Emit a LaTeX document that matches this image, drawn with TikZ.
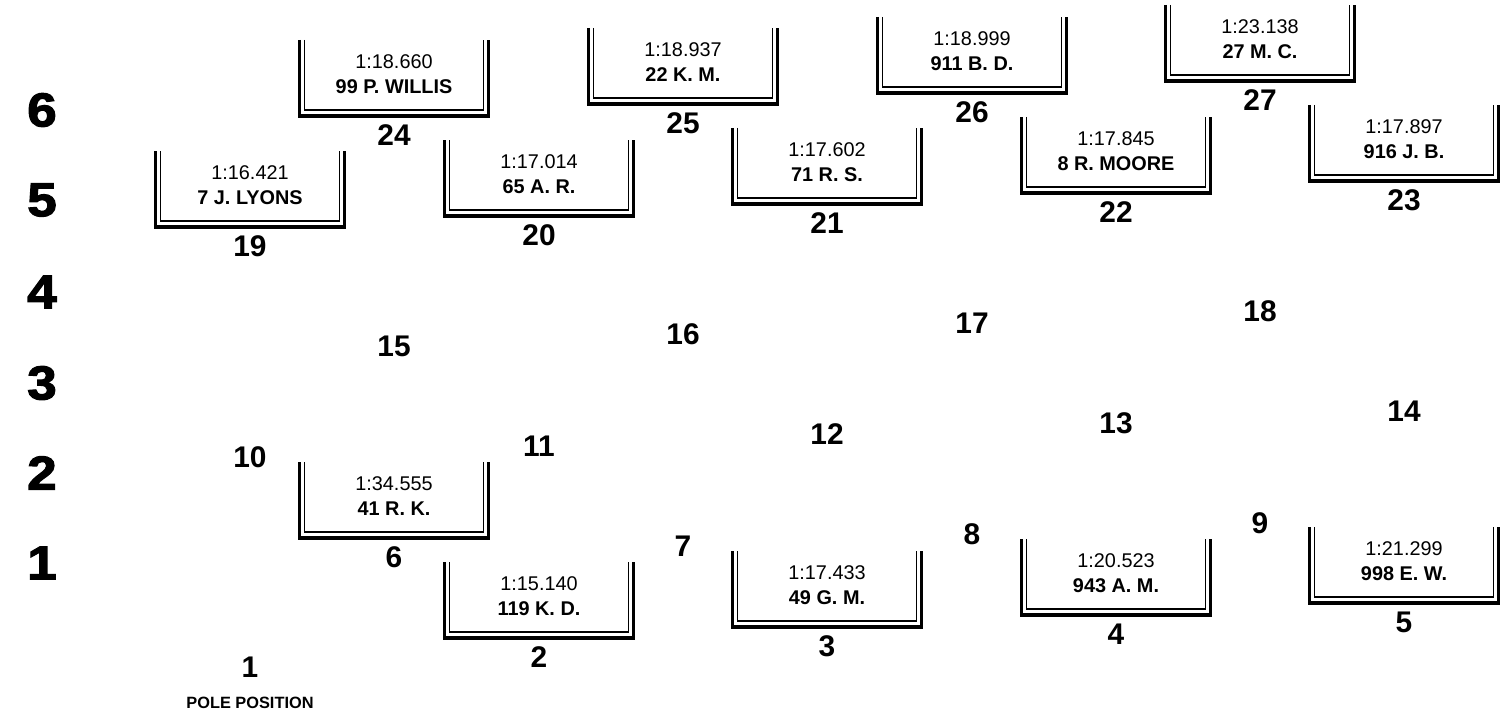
\documentclass[tikz,border=0pt]{standalone}
\usepackage{fontspec}
\setmainfont{Liberation Sans}
\newfontfamily\rowfont[BoldFeatures={FakeBold=2.5,FakeStretch=1.12}]{Liberation Sans}
\usepackage{tikz}
\usetikzlibrary{positioning}

\begin{document}
\begin{tikzpicture}[
    x=0.02cm, y=-0.02cm,
    posnum/.style={font=\fontsize{17}{17}\selectfont\bfseries, inner sep=0pt},
    rownum/.style={font=\fontsize{27}{27}\selectfont\rowfont\bfseries, inner sep=0pt},
    polenote/.style={font=\fontsize{9.3}{10}\selectfont\bfseries, inner sep=0pt},
    laptext/.style={font=\fontsize{11.3}{12}\selectfont, inner sep=0pt},
    drivertext/.style={font=\fontsize{11.3}{12}\selectfont\bfseries, inner sep=0pt},
    outerwall/.style={line width=1.8pt},
    innerwall/.style={line width=1.1pt},
    pics/slot/.style args={#1/#2}{code={
        \draw[outerwall] (-94.5,-95) -- (-94.5,-19) -- (94.5,-19) -- (94.5,-95);
        \draw[innerwall] (-89.5,-95) -- (-89.5,-25) -- (89.5,-25) -- (89.5,-95);
        \node[laptext] (-time) at (0,-73) {#1};
        \node[drivertext] (-driver) at (0,-48) {#2};
    }}
]
\useasboundingbox (0,0) rectangle (1511,713);

% Row numbers
\node[rownum] (row6) at (42,110) {6};
\node[rownum] (row5) at (42,200) {5};
\node[rownum] (row4) at (42,292) {4};
\node[rownum] (row3) at (42,383) {3};
\node[rownum] (row2) at (42,473) {2};
\node[rownum] (row1) at (42,563) {1};

% Grid positions
\node[posnum] (p1) at (250,667) {1};
\node[polenote, below=0.39cm of p1] (pole) {POLE POSITION};
\node[posnum] (p2) at (539,657) {2};
\node[posnum] (p3) at (827,646) {3};
\node[posnum] (p4) at (1116,634) {4};
\node[posnum] (p5) at (1404,622) {5};
\node[posnum] (p6) at (394,557) {6};
\node[posnum] (p7) at (683,546) {7};
\node[posnum] (p8) at (972,534) {8};
\node[posnum] (p9) at (1260,523) {9};
\node[posnum] (p10) at (250,457) {10};
\node[posnum] (p11) at (539,446) {11};
\node[posnum] (p12) at (827,434) {12};
\node[posnum] (p13) at (1116,423) {13};
\node[posnum] (p14) at (1404,411) {14};
\node[posnum] (p15) at (394,346) {15};
\node[posnum] (p16) at (683,334) {16};
\node[posnum] (p17) at (972,323) {17};
\node[posnum] (p18) at (1260,311) {18};
\node[posnum] (p19) at (250,246) {19};
\node[posnum] (p20) at (539,235) {20};
\node[posnum] (p21) at (827,223) {21};
\node[posnum] (p22) at (1116,212) {22};
\node[posnum] (p23) at (1404,200) {23};
\node[posnum] (p24) at (394,135) {24};
\node[posnum] (p25) at (683,123) {25};
\node[posnum] (p26) at (972,112) {26};
\node[posnum] (p27) at (1260,100) {27};

% Qualifying times
\pic (b2) at (p2) {slot=1:15.140/119 K. D.};
\pic (b3) at (p3) {slot=1:17.433/49 G. M.};
\pic (b4) at (p4) {slot=1:20.523/943 A. M.};
\pic (b5) at (p5) {slot=1:21.299/998 E. W.};
\pic (b6) at (p6) {slot=1:34.555/41 R. K.};
\pic (b19) at (p19) {slot=1:16.421/7 J. LYONS};
\pic (b20) at (p20) {slot=1:17.014/65 A. R.};
\pic (b21) at (p21) {slot=1:17.602/71 R. S.};
\pic (b22) at (p22) {slot=1:17.845/8 R. MOORE};
\pic (b23) at (p23) {slot=1:17.897/916 J. B.};
\pic (b24) at (p24) {slot=1:18.660/99 P. WILLIS};
\pic (b25) at (p25) {slot=1:18.937/22 K. M.};
\pic (b26) at (p26) {slot=1:18.999/911 B. D.};
\pic (b27) at (p27) {slot=1:23.138/27 M. C.};

\end{tikzpicture}
\end{document}
